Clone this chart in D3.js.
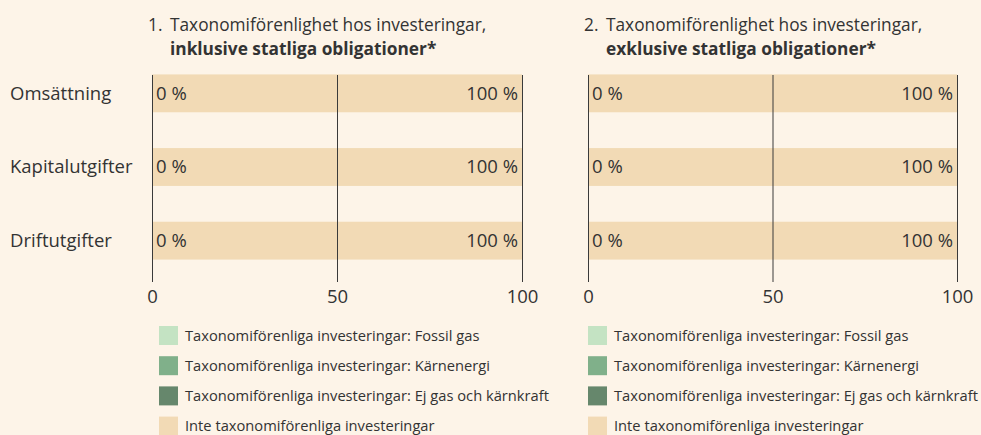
<!DOCTYPE html>
<html>
<head>
<meta charset="utf-8">
<script src="https://cdn.jsdelivr.net/npm/d3@7"></script>
<style>
  html, body { margin: 0; padding: 0; background: #fdf4e8; }
  svg { display: block; font-family: "Open Sans", "Noto Sans", sans-serif; }
</style>
</head>
<body>
<div id="chart"></div>
<script>
// Kategorier och serier
const categories = ["Omsättning", "Kapitalutgifter", "Driftutgifter"];
const seriesKeys = ["fossil", "karn", "ej", "inte"];
const seriesLabels = [
  "Taxonomiförenliga investeringar: Fossil gas",
  "Taxonomiförenliga investeringar: Kärnenergi",
  "Taxonomiförenliga investeringar: Ej gas och kärnkraft",
  "Inte taxonomiförenliga investeringar"
];
const seriesColors = ["#c4e3c3", "#80b08a", "#66876c", "#f2dab5"];

// Värden per panel (procent)
const panel1Fossil = [0, 0, 0];
const panel1Karn   = [0, 0, 0];
const panel1Ej     = [0, 0, 0];
const panel1Inte   = [100, 100, 100];

const panel2Fossil = [0, 0, 0];
const panel2Karn   = [0, 0, 0];
const panel2Ej     = [0, 0, 0];
const panel2Inte   = [100, 100, 100];

const xTicks = [0, 50, 100];

const panels = [
  { num: "1.", line1: "Taxonomiförenlighet hos investeringar,", line2: "inklusive statliga obligationer*",
    vals: [panel1Fossil, panel1Karn, panel1Ej, panel1Inte], x0: 152, x1: 522, legX: 159 },
  { num: "2.", line1: "Taxonomiförenlighet hos investeringar,", line2: "exklusive statliga obligationer*",
    vals: [panel2Fossil, panel2Karn, panel2Ej, panel2Inte], x0: 588, x1: 957, legX: 588 }
];

const W = 981, H = 435;
const textCol = "#333";

const svg = d3.select("#chart").append("svg")
  .attr("width", W)
  .attr("height", H);

const y = d3.scaleBand()
  .domain(categories)
  .range([56, 278])
  .paddingInner(0.486)
  .paddingOuter(0.25);

// Kategorietiketter
svg.append("g")
  .selectAll("text")
  .data(categories)
  .enter().append("text")
  .attr("x", 10)
  .attr("y", d => y(d) + y.bandwidth() / 2)
  .attr("dy", "0.35em")
  .style("font-size", "18.5px")
  .style("fill", textCol)
  .text(d => d);

panels.forEach(p => {
  const x = d3.scaleLinear().domain([0, 100]).range([p.x0, p.x1]);

  // Titel
  const t = svg.append("g");
  t.append("text")
    .attr("x", p.x0 - 4).attr("y", 31)
    .style("font-size", "17.3px").style("fill", textCol)
    .text(p.num);
  t.append("text")
    .attr("x", p.x0 + 18).attr("y", 31)
    .style("font-size", "17.3px").style("fill", textCol)
    .text(p.line1);
  t.append("text")
    .attr("x", p.x0 + 18).attr("y", 55)
    .style("font-size", "17.3px").style("font-weight", "700").style("fill", textCol)
    .text(p.line2);

  // Stackad data
  const rows = categories.map((c, i) => {
    const r = { cat: c };
    seriesKeys.forEach((k, j) => r[k] = p.vals[j][i]);
    return r;
  });
  const stacked = d3.stack().keys(seriesKeys)(rows);

  const g = svg.append("g");
  g.selectAll("g.series")
    .data(stacked)
    .enter().append("g")
    .attr("class", "series")
    .attr("fill", (d, i) => seriesColors[i])
    .selectAll("rect")
    .data(d => d)
    .enter().append("rect")
    .attr("x", d => x(d[0]))
    .attr("y", d => y(d.data.cat))
    .attr("width", d => x(d[1]) - x(d[0]))
    .attr("height", y.bandwidth());

  // Stödlinjer och x-axel
  const ax = svg.append("g")
    .attr("transform", "translate(0,282)")
    .call(d3.axisBottom(x).tickValues(xTicks).tickSize(-(282 - 75)).tickPadding(8));
  ax.select(".domain").remove();
  ax.selectAll("line").attr("stroke", "#3a3a3a").attr("stroke-width", 1);
  ax.selectAll("text")
    .style("font-size", "18.5px")
    .style("fill", textCol)
    .style("font-family", "'Open Sans', 'Noto Sans', sans-serif");

  // Värdeetiketter
  rows.forEach(r => {
    const aligned = r.fossil + r.karn + r.ej;
    svg.append("text")
      .attr("x", x(0) + 4)
      .attr("y", y(r.cat) + y.bandwidth() / 2)
      .attr("dy", "0.35em")
      .style("font-size", "18.5px").style("fill", textCol)
      .text(aligned + " %");
    svg.append("text")
      .attr("x", x(aligned + r.inte) - 4)
      .attr("y", y(r.cat) + y.bandwidth() / 2)
      .attr("dy", "0.35em")
      .attr("text-anchor", "end")
      .style("font-size", "18.5px").style("fill", textCol)
      .text(r.inte + " %");
  });

  // Förklaring
  const lg = svg.append("g")
    .attr("transform", `translate(${p.legX},326)`);
  const item = lg.selectAll("g")
    .data(seriesLabels)
    .enter().append("g")
    .attr("transform", (d, i) => `translate(0,${i * 30.2})`);
  item.append("rect")
    .attr("width", 19).attr("height", 19)
    .attr("fill", (d, i) => seriesColors[i]);
  item.append("text")
    .attr("x", 26).attr("y", 9.5)
    .attr("dy", "0.35em")
    .style("font-size", "14.7px").style("fill", textCol)
    .text(d => d);
});
</script>
</body>
</html>
